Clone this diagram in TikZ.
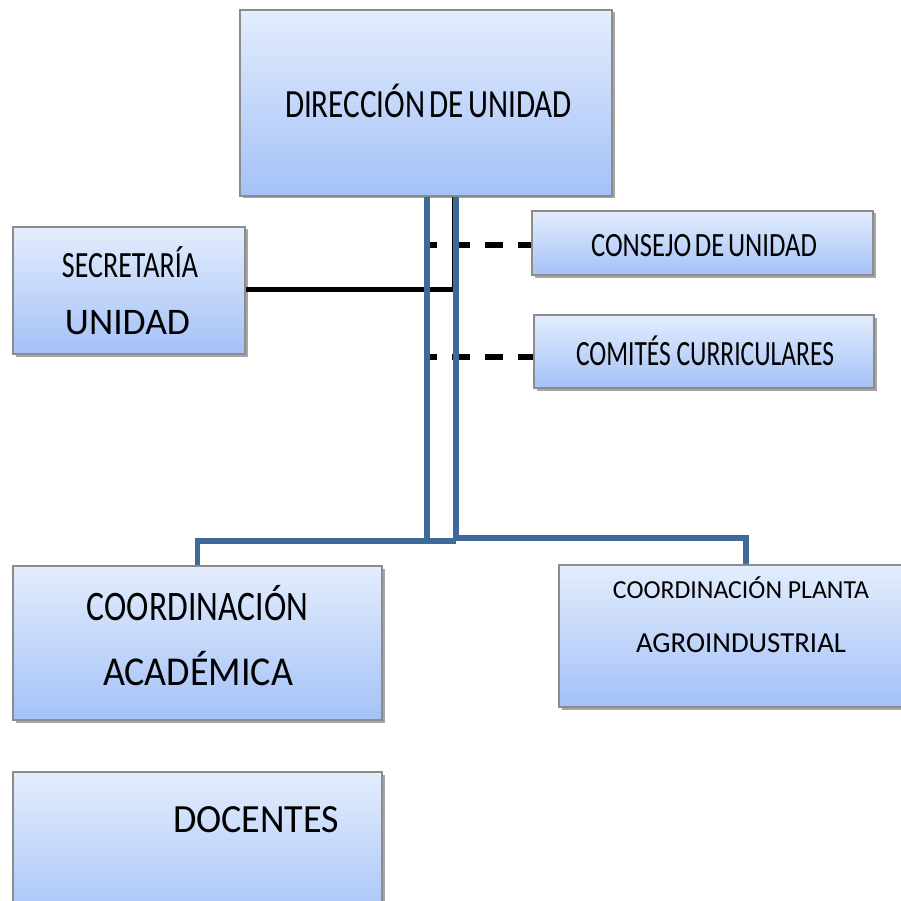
\documentclass[tikz,border=0pt]{standalone}
\usepackage{fontspec}
\setmainfont{Carlito}
\usetikzlibrary{shadows}
\definecolor{boxtop}{HTML}{E3EDFD}
\definecolor{boxbot}{HTML}{A4C1F7}
\definecolor{boxline}{HTML}{8C8C8C}
\definecolor{orgblue}{HTML}{3E6A9B}
\newcommand\fitt[3]{{\fontsize{#2}{#2}\selectfont\resizebox{#1}{\height}{#3}}}
\tikzset{
  orgbox/.style={draw=boxline, line width=1.2pt, top color=boxtop, bottom color=boxbot,
    inner sep=0pt, drop shadow={shadow xshift=2.5pt, shadow yshift=-2.5pt, opacity=0.35, fill=black}},
  lbl/.style={anchor=base, inner sep=0pt, text=black},
  blueline/.style={draw=orgblue, line width=5.2pt},
  blackline/.style={draw=black, line width=5pt},
  thinblack/.style={draw=black, line width=2.2pt},
  dashline/.style={draw=black, line width=5.5pt, dash pattern=on 18pt off 15pt, dash phase=11pt}
}
\begin{document}
\begin{tikzpicture}[x=1pt, y=-1pt]
\useasboundingbox (0,0) rectangle (901,901);
% boxes
\node[orgbox, minimum width=372pt, minimum height=186pt] (dir) at (426,103) {};
\node[orgbox, minimum width=232pt, minimum height=127pt] (secr) at (129,290.5) {};
\node[orgbox, minimum width=341pt, minimum height=64pt] (cons) at (702.5,243) {};
\node[orgbox, minimum width=340pt, minimum height=73pt] (comi) at (704,351.5) {};
\node[orgbox, minimum width=369pt, minimum height=154pt] (acad) at (197.5,643) {};
\node[orgbox, minimum width=374pt, minimum height=142pt] (plan) at (746,636) {};
\node[orgbox, minimum width=369pt, minimum height=158pt] (doce) at (197.5,851) {};
% texts
\node[lbl] (tdir) at (428.5,118) {\fitt{287pt}{40pt}{{\spaceskip=0.14em DIRECCIÓN DE UNIDAD}}};
\node[lbl] (tsec1) at (130,277) {\fitt{136pt}{37pt}{SECRETARÍA}};
\node[lbl] (tsec2) at (127.5,334) {\fitt{125pt}{37.5pt}{UNIDAD}};
\node[lbl] (tcons) at (704,256) {\fitt{226pt}{34pt}{{\spaceskip=0.14em CONSEJO DE UNIDAD}}};
\node[lbl] (tcomi) at (705,365) {\fitt{258pt}{35.5pt}{COMITÉS CURRICULARES}};
\node[lbl] (tac1) at (197.5,620) {\fitt{221pt}{42pt}{COORDINACIÓN}};
\node[lbl] (tac2) at (198,685) {\fitt{190pt}{41pt}{ACADÉMICA}};
\node[lbl] (tpl1) at (741,598) {\fitt{256pt}{26pt}{COORDINACIÓN PLANTA}};
\node[lbl] (tpl2) at (741,652) {\fitt{210pt}{29pt}{AGROINDUSTRIAL}};
\node[lbl] (tdoc) at (256,832) {\fitt{166pt}{40pt}{DOCENTES}};
% coordinates
\coordinate (d1) at (430,245);
\coordinate (d2) at (430,357);
\coordinate (kb) at (453.5,289);
\coordinate (jl) at (427,541);
\coordinate (jr) at (456,538);
% dashed connectors
\draw[dashline] (d1) -- (d1 -| cons.west);
\draw[dashline] (d2) -- (d2 -| comi.west);
% secretaria connector
\draw[blackline] (secr.east |- kb) -- ([xshift=1pt]kb);
\draw[thinblack] (kb) -- (kb |- dir.south);
% blue connectors
\draw[blueline] (jl |- dir.south) -- (jl) -| (acad.north);
\draw[blueline] (jr |- dir.south) -- (jr) -| (plan.north);
\draw[blueline] (jl) -- (jr |- jl);
\end{tikzpicture}
\end{document}
